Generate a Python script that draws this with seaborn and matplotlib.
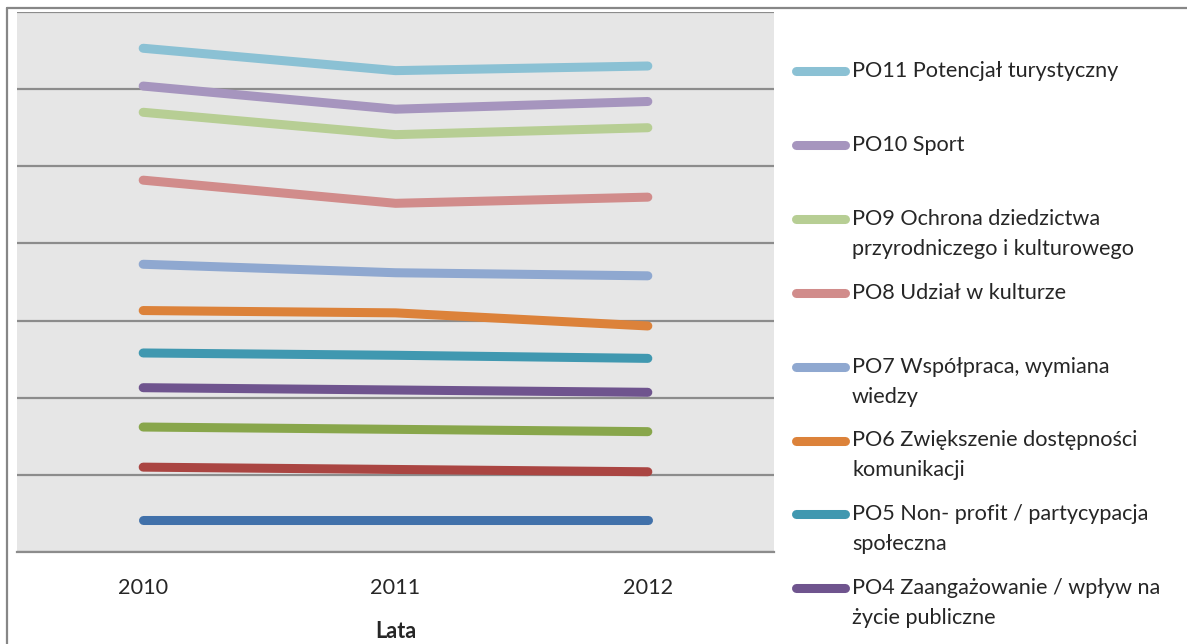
import pandas as pd
import seaborn as sns
import matplotlib.pyplot as plt
from matplotlib.lines import Line2D

# data (arbitrary units, gridlines every 1)
years = ['2010', '2011', '2012']
series = ['PO1', 'PO2', 'PO3',
          'PO4 Zaangażowanie / wpływ na\nżycie publiczne',
          'PO5 Non- profit / partycypacja\nspołeczna',
          'PO6 Zwiększenie dostępności\nkomunikacji',
          'PO7 Współpraca, wymiana\nwiedzy',
          'PO8 Udział w kulturze',
          'PO9 Ochrona dziedzictwa\nprzyrodniczego i kulturowego',
          'PO10 Sport',
          'PO11 Potencjał turystyczny']
po1 = [0.42, 0.42, 0.42]
po2 = [1.10, 1.07, 1.04]
po3 = [1.62, 1.59, 1.56]
po4 = [2.13, 2.10, 2.07]
po5 = [2.58, 2.55, 2.51]
po6 = [3.13, 3.10, 2.93]
po7 = [3.73, 3.62, 3.58]
po8 = [4.82, 4.52, 4.60]
po9 = [5.70, 5.41, 5.50]
po10 = [6.04, 5.74, 5.84]
po11 = [6.53, 6.24, 6.30]
values = [po1, po2, po3, po4, po5, po6, po7, po8, po9, po10, po11]
colors = ['#4171AA', '#AA4542', '#88A64B', '#6F548E', '#4098B0',
          '#DC823A', '#8FA8D0', '#D18C8B', '#B7CE94', '#A695BE', '#8BC1D4']
legend_series = series[::-1][:8]  # only these fit in the visible area

rows = []
for name, vals in zip(series, values):
    for i, v in enumerate(vals):
        rows.append({'seria': name, 'pos': i, 'val': v})
df = pd.DataFrame(rows)

sns.set_style('white')
plt.rcParams['font.family'] = ['Lato', 'DejaVu Sans']

W, H = 1187, 644
fs = 15.6
fig = plt.figure(figsize=(W / 100, H / 100), dpi=100)
ax = fig.add_axes([17 / W, 1 - 552 / H, (774 - 17) / W, (552 - 12) / H])
ax.set_facecolor('#E6E6E6')

sns.lineplot(data=df, x='pos', y='val', hue='seria', hue_order=series,
             palette=dict(zip(series, colors)), linewidth=6.5,
             legend=False, sort=False, ax=ax)
for ln in ax.lines:
    ln.set_solid_capstyle('round')
    ln.set_solid_joinstyle('round')

ax.set_xlim(-0.5, 2.5)
ax.set_ylim(0, 7)
ax.set_yticks(range(0, 8))
ax.set_yticklabels([])
ax.xaxis.grid(False, which='both')
ax.yaxis.grid(True, which='major', color='#8C8C8C', linewidth=1.6)
ax.set_axisbelow(True)
for s in ['left', 'right', 'top']:
    ax.spines[s].set_visible(False)
ax.spines['bottom'].set_color('#8C8C8C')
ax.spines['bottom'].set_linewidth(1.6)

ax.set_xticks(range(len(years)))
ax.set_xticklabels(years, fontsize=fs)
ax.set_xticks([-0.5, 0.5, 1.5, 2.5], minor=True)
ax.tick_params(axis='x', which='major', length=0, pad=19)
ax.tick_params(axis='x', which='minor', length=6, width=1.6, color='#8C8C8C', direction='out')
ax.tick_params(axis='y', length=0)
ax.set_xlabel('Lata', fontsize=fs, fontweight='bold', labelpad=16)
ax.set_ylabel('')

# legend laid out like the original (evenly spaced entries, handle on first line)
for k, name in enumerate(legend_series):
    col = colors[series.index(name)]
    y = 71 + 73.9 * k
    fig.add_artist(Line2D([796 / W, 845 / W], [1 - y / H] * 2, transform=fig.transFigure,
                          color=col, linewidth=6.5, solid_capstyle='round'))
    for j, part in enumerate(name.split('\n')):
        fig.text(852 / W, 1 - (y + 30 * j) / H, part, fontsize=fs, va='center', ha='left')

# outer frame of the original chart
fig.add_artist(Line2D([7 / W, 7 / W], [0, 1 - 8 / H], transform=fig.transFigure,
                      color='#878787', linewidth=1.6))
fig.add_artist(Line2D([7 / W, 1], [1 - 8 / H] * 2, transform=fig.transFigure,
                      color='#878787', linewidth=1.6))

fig.savefig('out.png', dpi=100)
